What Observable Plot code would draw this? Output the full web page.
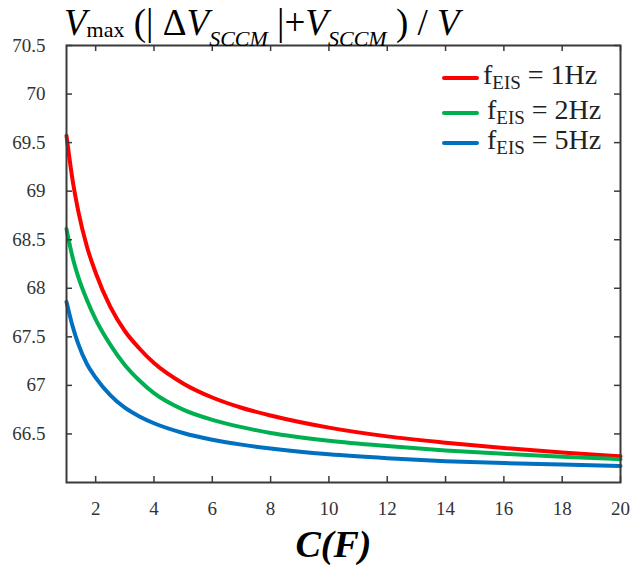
<!DOCTYPE html>
<html>
<head>
<meta charset="utf-8">
<script src="https://cdn.jsdelivr.net/npm/d3@7"></script>
<script src="https://cdn.jsdelivr.net/npm/@observablehq/plot@0.6"></script>
<style>
  html, body { margin: 0; padding: 0; background: #fff; }
  #chart { width: 631px; height: 565px; }
  #chart svg text { font-family: 'Liberation Serif', 'Times New Roman', serif !important; }
</style>
</head>
<body>
<div id="chart"></div>
<script>
// Capacitance C (F)
const C = [1, 1.2, 1.4, 1.7, 2, 2.5, 3, 3.5, 4, 5, 6, 7, 8, 10, 12, 14, 16, 18, 20];
// Vmax (|ΔV_SCCM| + V_SCCM) / V for each f_EIS
const v1Hz = [69.57, 69.13, 68.80, 68.43, 68.16, 67.81, 67.56, 67.38, 67.23, 67.02, 66.875, 66.77, 66.69, 66.565, 66.475, 66.41, 66.355, 66.31, 66.27];
const v2Hz = [68.61, 68.33, 68.12, 67.88, 67.68, 67.42, 67.21, 67.05, 66.92, 66.75, 66.645, 66.57, 66.51, 66.43, 66.375, 66.33, 66.295, 66.265, 66.24];
const v5Hz = [67.86, 67.62, 67.43, 67.22, 67.08, 66.90, 66.77, 66.68, 66.61, 66.51, 66.44, 66.39, 66.35, 66.29, 66.25, 66.22, 66.20, 66.185, 66.17];
const seriesNames = ["1Hz", "2Hz", "5Hz"];
const seriesColors = ["#ff0000", "#00b050", "#0070c0"];
const xTicks = [2, 4, 6, 8, 10, 12, 14, 16, 18, 20];
const yTicks = [66.5, 67, 67.5, 68, 68.5, 69, 69.5, 70, 70.5];

const rows = [];
[v1Hz, v2Hz, v5Hz].forEach((vals, k) => {
  C.forEach((c, i) => rows.push({C: c, V: vals[i], series: seriesNames[k]}));
});

const W = 631, H = 565;
const mL = 66, mR = 11, mT = 45, mB = 83;
const frameW = W - mL - mR, frameH = H - mT - mB;
const tickLen = 6;
const axisColor = "#3a3a3a";
const serif = "'Liberation Serif', 'Times New Roman', serif";

const svg = Plot.plot({
  width: W, height: H,
  marginLeft: mL, marginRight: mR, marginTop: mT, marginBottom: mB,
  style: {fontFamily: serif, fontSize: "19px", color: "#333", background: "#fff"},
  x: {domain: [1, 20]},
  y: {domain: [66, 70.5]},
  color: {domain: seriesNames, range: seriesColors},
  marks: [
    Plot.line(rows, {x: "C", y: "V", stroke: "series", strokeWidth: 4, curve: "monotone-x"}),
    Plot.frame({stroke: axisColor, strokeWidth: 2}),
    Plot.tickX(xTicks, {x: d => d, stroke: axisColor, strokeWidth: 1.5, insetTop: frameH - tickLen}),
    Plot.tickX(xTicks, {x: d => d, stroke: axisColor, strokeWidth: 1.5, insetBottom: frameH - tickLen}),
    Plot.tickY(yTicks, {y: d => d, stroke: axisColor, strokeWidth: 1.5, insetRight: frameW - tickLen}),
    Plot.tickY(yTicks, {y: d => d, stroke: axisColor, strokeWidth: 1.5, insetLeft: frameW - tickLen}),
    Plot.axisX({ticks: xTicks, tickSize: 0, tickPadding: 19, tickFormat: d => String(d), label: null, fontSize: 19, fontFamily: serif, fill: "#333"}),
    Plot.axisY({ticks: yTicks, tickSize: 0, tickPadding: 21, tickFormat: d => String(d), label: null, fontSize: 19, fontFamily: serif, fill: "#333"}),
    Plot.text(["C(F)"], {frameAnchor: "bottom", dy: 62, dx: -10, text: d => d, fontSize: 38, fontWeight: "bold", fontStyle: "italic", fontFamily: serif, fill: "#000", lineAnchor: "middle"})
  ]
});
document.getElementById("chart").appendChild(svg);

// Title with subscript pieces
const s = d3.select(svg);
const title = s.append("text").attr("x", 64).attr("y", 35)
  .attr("text-anchor", "start")
  .attr("font-family", serif).attr("font-size", 37).attr("fill", "#000");
const parts = [
  ["V", true, 0], ["max", false, 2], [" (| Δ", false, 0], ["V", true, 0], ["SCCM", true, 11],
  [" |+", false, 0], ["V", true, 0], ["SCCM", true, 11], [" ) / ", false, 0], ["V", true, 0]
];
let prevDy = 0;
parts.forEach(([t, it, sub]) => {
  const ts = title.append("tspan").text(t)
    .attr("font-style", it ? "italic" : "normal")
    .attr("dy", sub - prevDy);
  if (sub) ts.attr("font-size", 22);
  prevDy = sub;
});

// Legend
const legendRows = [
  {name: "1Hz", color: seriesColors[0], ly: 78, tx: 483, ty: 84},
  {name: "2Hz", color: seriesColors[1], ly: 113, tx: 487, ty: 119},
  {name: "5Hz", color: seriesColors[2], ly: 143, tx: 487, ty: 149}
];
legendRows.forEach(r => {
  s.append("line").attr("x1", 444).attr("x2", 477).attr("y1", r.ly).attr("y2", r.ly)
    .attr("stroke", r.color).attr("stroke-width", 4).attr("stroke-linecap", "round");
  const t = s.append("text").attr("x", r.tx).attr("y", r.ty)
    .attr("text-anchor", "start")
    .attr("font-family", serif).attr("font-size", 28).attr("fill", "#222");
  t.append("tspan").text("f");
  t.append("tspan").text("EIS").attr("font-size", 19).attr("dy", 5);
  t.append("tspan").text(" = " + r.name).attr("dy", -5);
});
</script>
</body>
</html>
